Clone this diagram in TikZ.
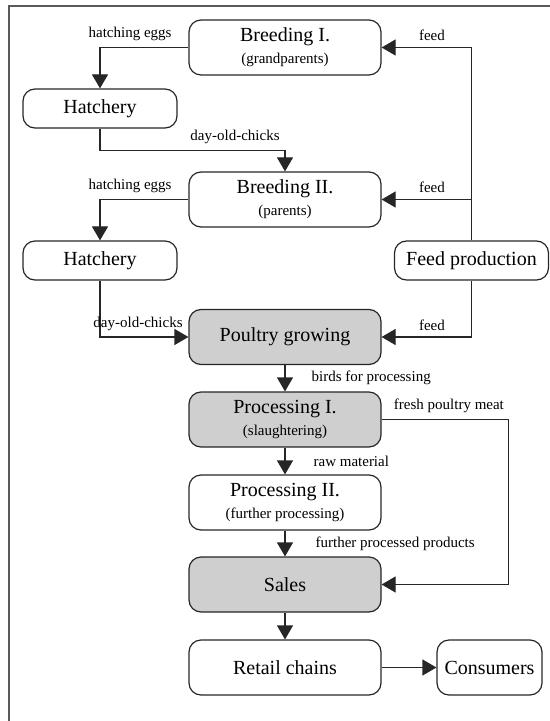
\documentclass[tikz,border=0pt]{standalone}
\usepackage{fontspec}
\setmainfont{Liberation Serif}
\usepackage{tikz}
\usetikzlibrary{arrows.meta}
\definecolor{boxgray}{RGB}{207,207,207}
\definecolor{framegray}{RGB}{90,90,90}
\newcommand{\sublbl}{\fontsize{7.5pt}{9pt}\selectfont}
\tikzset{
>={Triangle[length=7pt,width=8pt]},
  stage/.style={
    rectangle,
    rounded corners=6pt,
    draw=black!85, line width=0.6pt,
    minimum width=96pt,
    minimum height=27.5pt,
    inner sep=0pt,
    align=center,
    font=\fontsize{10pt}{10pt}\selectfont},
  hatch/.style={stage, minimum width=77pt, minimum height=19.5pt},
  shaded/.style={stage, fill=boxgray},
  flow/.style={draw=black!85, line width=0.6pt, ->},
  lbl/.style={font=\sublbl, inner sep=1pt},
}
\begin{document}
\begin{tikzpicture}[x=0.5pt,y=-0.5pt]
			\useasboundingbox (0,0) rectangle (550,721);
			\draw[framegray, line width=1pt] (9,721) -- (9,6) -- (550,6);
			% stages
			\node[stage] (breedA) at (285,47.5) {Breeding I.\\[1pt]{\sublbl (grandparents)}};
			\node[hatch] (hatchA) at (100,108.5) {Hatchery};
			\node[stage] (breedB) at (285,199.5) {Breeding II.\\[1pt]{\sublbl (parents)}};
			\node[hatch] (hatchB) at (100,260.5) {Hatchery};
			\node[hatch] (feedprod) at (471.5,260.5) {Feed production};
			\node[shaded] (growing) at (285,337) {Poultry growing};
			\node[shaded] (procA) at (285,419.5) {Processing I.\\[1pt]{\sublbl (slaughtering)}};
			\node[stage] (procB) at (285,502.5) {Processing II.\\[1pt]{\sublbl (further processing)}};
			\node[shaded] (sales) at (285,584.5) {Sales};
			\node[stage] (retail) at (285,667.5) {Retail chains};
			\node[stage, minimum width=52.5pt] (consumers) at (489.5,667.5) {Consumers};
			% connectors
			\draw[flow] (breedA.west) -| (hatchA.north) node[lbl, above=2pt, pos=0.33] {hatching eggs};
			\draw[flow] (hatchA.south) -- ++(0,22) -| (breedB.north) node[lbl, above=2pt, pos=0.365] {day-old-chicks};
			\draw[flow] (breedB.west) -| (hatchB.north) node[lbl, above=2pt, pos=0.33] {hatching eggs};
			\draw[flow] (hatchB.south) |- (growing.west) node[lbl, above=2pt, pos=0.715] {day-old-chicks};
			\draw[flow] (feedprod.north) |- (breedA.east) node[lbl, above=2pt, pos=0.72] {feed};
			\draw[flow] (feedprod.north) |- (breedB.east) node[lbl, above=2pt, pos=0.72] {feed};
			\draw[flow] (feedprod.south) |- (growing.east) node[lbl, above=2pt, pos=0.72] {feed};
			\draw[flow] (growing) -- (procA) node[lbl, midway, right=12pt] {birds for processing};
			\draw[flow] (procA) -- (procB) node[lbl, midway, right=13pt] {raw material};
			\draw[flow] (procB) -- (sales) node[lbl, midway, right=14pt] {further processed products};
			\draw[flow] (procA.east) -- ++(127,0) node[lbl, above=2pt, pos=0.53] {fresh poultry meat} |- (sales.east);
			\draw[flow] (sales) -- (retail);
			\draw[flow] (retail) -- (consumers);
		\end{tikzpicture}
\end{document}
